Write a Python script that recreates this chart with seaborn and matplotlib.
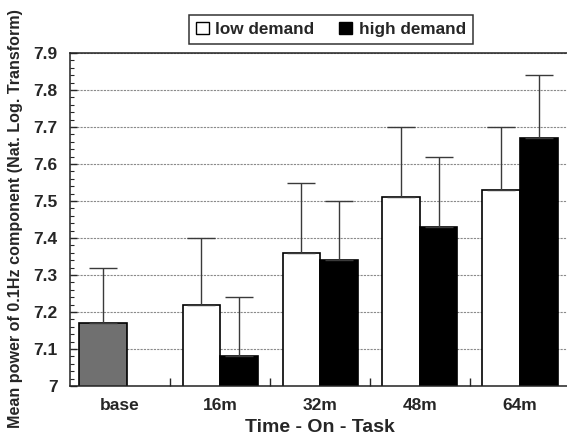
import numpy as np
import pandas as pd
import matplotlib
matplotlib.use("Agg")
import matplotlib.pyplot as plt
from matplotlib.patches import Patch
from matplotlib.ticker import MultipleLocator, FixedLocator
import seaborn as sns

# values
times = ['base', '16m', '32m', '48m', '64m']
low_mean = [7.17, 7.22, 7.36, 7.51, 7.53]
low_upper = [7.32, 7.40, 7.55, 7.70, 7.70]
high_mean = [np.nan, 7.08, 7.34, 7.43, 7.67]
high_upper = [np.nan, 7.24, 7.50, 7.62, 7.84]
levels = ['low demand', 'high demand']
yticks = [7.0, 7.1, 7.2, 7.3, 7.4, 7.5, 7.6, 7.7, 7.8, 7.9]
ytick_labels = ['7', '7.1', '7.2', '7.3', '7.4', '7.5', '7.6', '7.7', '7.8', '7.9']

rows = []
for t, m, u in zip(times, low_mean, low_upper):
    rows.append({'time': t, 'demand': levels[0], 'value': m, 'upper': u})
for t, m, u in zip(times, high_mean, high_upper):
    if not np.isnan(m):
        rows.append({'time': t, 'demand': levels[1], 'value': m, 'upper': u})
df = pd.DataFrame(rows)

sns.set_style("white")
plt.rcParams['font.family'] = ['Liberation Sans', 'DejaVu Sans']
plt.rcParams['font.weight'] = 'bold'

fig = plt.figure(figsize=(5.67, 4.38), dpi=100)
ax = fig.add_axes([70 / 567, 1 - 386 / 438, 500 / 567, 333 / 438])

sns.barplot(data=df, x='time', y='value', hue='demand', order=times, hue_order=levels,
            palette={levels[0]: 'white', levels[1]: 'black'}, width=0.75,
            edgecolor='black', linewidth=1.2, errorbar=None, legend=False, ax=ax,
            saturation=1)

# error bars (upper only), and the grey baseline bar
for cont, lev in zip(ax.containers, levels):
    sub = df[df['demand'] == lev].reset_index(drop=True)
    for bar, (_, r) in zip(cont, sub.iterrows()):
        if r['time'] == 'base':
            bar.set_facecolor('#707070')
            bar.set_x(-0.41)
            bar.set_width(0.48)
        cx = bar.get_x() + bar.get_width() / 2
        ax.errorbar(cx, r['value'], yerr=[[0], [r['upper'] - r['value']]],
                    fmt='none', ecolor='#3a3a3a', elinewidth=1.0, capsize=10,
                    capthick=1.0, zorder=1)

ax.set_xlim(-0.5, 4.5)
ax.set_ylim(7.0, 7.9)
ax.set_yticks(yticks)
ax.set_yticklabels(ytick_labels)
ax.yaxis.set_minor_locator(MultipleLocator(0.02))
ax.xaxis.set_minor_locator(FixedLocator([0.5, 1.5, 2.5, 3.5]))
ax.tick_params(axis='y', which='major', direction='in', length=5, width=1, pad=9,
               labelsize=12.5, left=True)
ax.tick_params(axis='y', which='minor', direction='in', length=3, width=0.8, left=True)
ax.tick_params(axis='x', which='major', length=0, pad=9, labelsize=12.5)
ax.tick_params(axis='x', which='minor', direction='in', length=6, width=1, bottom=True)
for lab in ax.get_xticklabels() + ax.get_yticklabels():
    lab.set_fontweight('bold')

ax.yaxis.grid(True, linestyle=(0, (2, 1)), color='#8a8a8a', linewidth=0.8)
ax.set_axisbelow(True)
for s in ax.spines.values():
    s.set_color('#222222')
    s.set_linewidth(1.1)

ax.set_xlabel('Time - On - Task', fontsize=14, fontweight='bold', labelpad=4)
ax.set_ylabel('Mean power of 0.1Hz component (Nat. Log. Transform)', fontsize=11.6,
              fontweight='bold')
ax.yaxis.set_label_coords(-0.094, 0.503)

handles = [Patch(facecolor='white', edgecolor='black', linewidth=1),
           Patch(facecolor='black', edgecolor='black', linewidth=1)]
leg = fig.legend(handles, levels, loc='center', bbox_to_anchor=(331 / 567, 1 - 29.5 / 438),
                 ncol=2, frameon=True, fancybox=False, edgecolor='black',
                 prop={'size': 12.3, 'weight': 'bold'}, handlelength=0.75, handleheight=0.75,
                 handletextpad=0.4, columnspacing=1.45, borderpad=0.4)
leg.get_frame().set_linewidth(1.1)

fig.savefig('out.png', dpi=100)
